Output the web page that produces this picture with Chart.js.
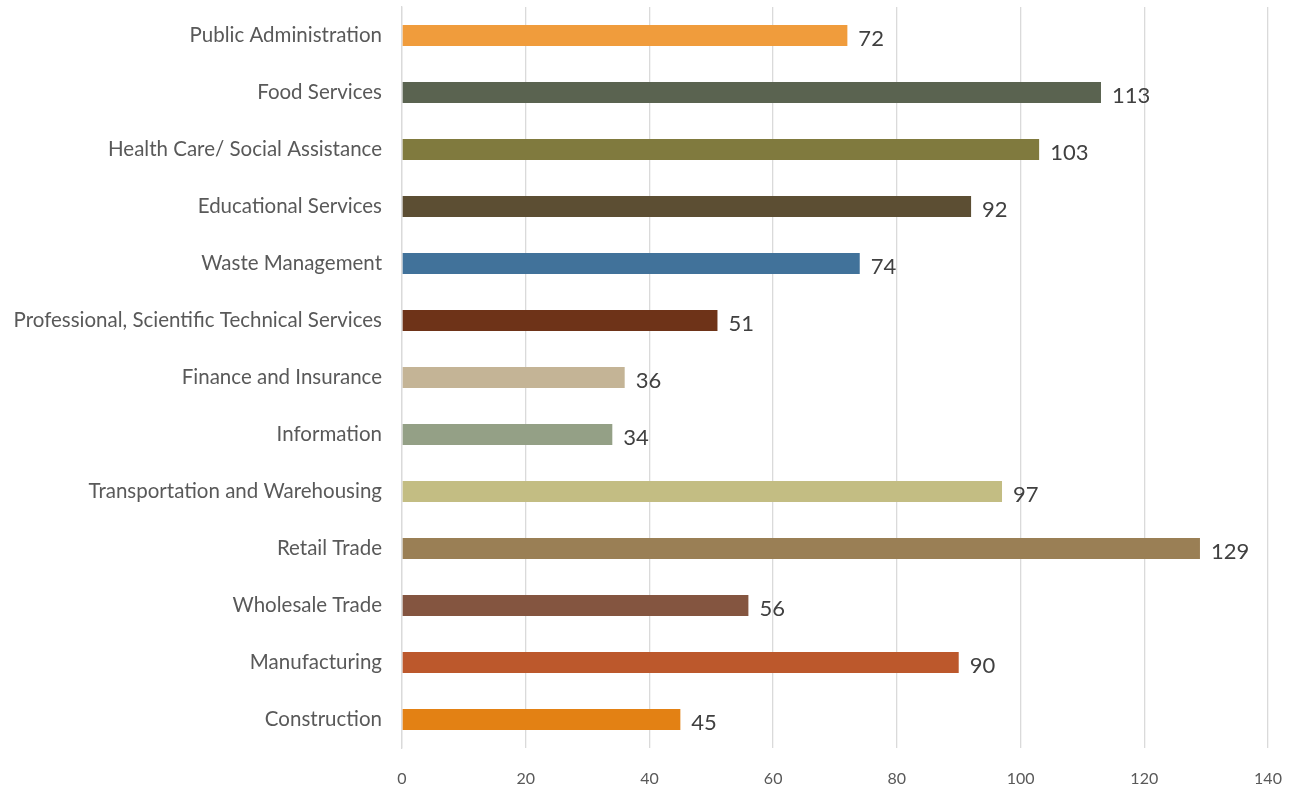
<!DOCTYPE html>
<html>
<head>
<meta charset="utf-8">
<script src="https://cdn.jsdelivr.net/npm/chart.js@4/dist/chart.umd.min.js"></script>
<style>
  html, body { margin: 0; padding: 0; background: #fff; }
  #wrap { width: 1295px; height: 789px; position: relative; }
</style>
</head>
<body>
<div id="wrap"><canvas id="industryChart"></canvas></div>
<script>
// industries, top to bottom
const industries = [
  'Public Administration',
  'Food Services',
  'Health Care/ Social Assistance',
  'Educational Services',
  'Waste Management',
  'Professional, Scientific Technical Services',
  'Finance and Insurance',
  'Information',
  'Transportation and Warehousing',
  'Retail Trade',
  'Wholesale Trade',
  'Manufacturing',
  'Construction'
];
const counts = [72, 113, 103, 92, 74, 51, 36, 34, 97, 129, 56, 90, 45];
const barColors = [
  '#F09C3C', '#5A6350', '#807A3E', '#5C4E33', '#41729A', '#6E3318', '#C4B496',
  '#94A086', '#C3BD83', '#9A7F55', '#845540', '#BC582C', '#E38114'
];
const xTicks = [0, 20, 40, 60, 80, 100, 120, 140];

// value labels written just past the end of each bar
const valueLabels = {
  id: 'valueLabels',
  afterDatasetsDraw(chart) {
    const ctx = chart.ctx;
    const meta = chart.getDatasetMeta(0);
    ctx.save();
    ctx.font = '22px Lato';
    ctx.fillStyle = '#404040';
    ctx.textAlign = 'left';
    ctx.textBaseline = 'middle';
    meta.data.forEach((bar, i) => {
      ctx.fillText(String(counts[i]), bar.x + 11, bar.y + 3);
    });
    ctx.restore();
  }
};

const ctx = document.getElementById('industryChart').getContext('2d');
new Chart(ctx, {
  type: 'bar',
  data: {
    labels: industries,
    datasets: [{
      data: counts,
      backgroundColor: barColors,
      borderWidth: 0,
      barPercentage: 0.37,
      categoryPercentage: 1
    }]
  },
  options: {
    indexAxis: 'y',
    responsive: true,
    maintainAspectRatio: false,
    animation: false,
    layout: { padding: { top: 7, right: 27, bottom: 0, left: 0 } },
    plugins: {
      legend: { display: false },
      tooltip: { enabled: false }
    },
    scales: {
      x: {
        min: 0,
        max: 140,
        afterBuildTicks(scale) {
          scale.ticks = xTicks.map(v => ({ value: v }));
        },
        afterFit(scale) {
          scale.height = 41;
          scale.paddingLeft = 0;
          scale.paddingRight = 0;
        },
        grid: { color: '#DADADA', lineWidth: 1.3, drawTicks: false },
        border: { display: false },
        ticks: {
          padding: 21,
          color: '#595959',
          font: { family: 'Lato', size: 16 }
        }
      },
      y: {
        afterFit(scale) {
          scale.width = 402;
          scale.paddingTop = 0;
          scale.paddingBottom = 0;
        },
        grid: { display: false, drawTicks: false },
        border: { display: true, color: '#DADADA', width: 1.3 },
        ticks: {
          padding: 20,
          color: '#595959',
          font: { family: 'Lato', size: 20.5 }
        }
      }
    }
  },
  plugins: [valueLabels]
});
</script>
</body>
</html>
